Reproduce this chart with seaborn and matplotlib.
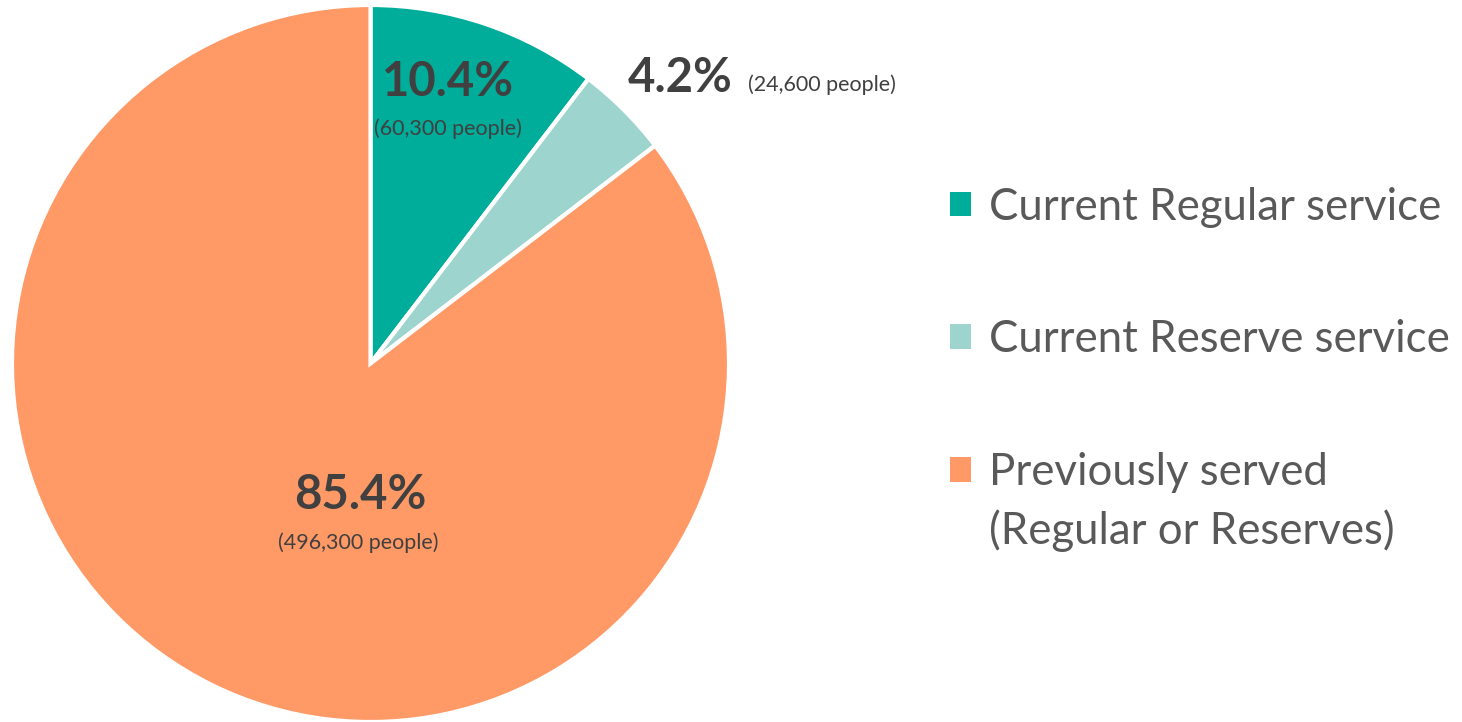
import matplotlib.pyplot as plt
import seaborn as sns
from matplotlib.patches import Patch

sns.set_theme(style="white")
plt.rcParams["font.family"] = ["Lato", "DejaVu Sans"]

categories = ["Current Regular service", "Current Reserve service", "Previously served"]
category_note = "(Regular or Reserves)"
shares = [10.4, 4.2, 85.4]
people = ["60,300", "24,600", "496,300"]
colors = ["#00AC9A", "#9DD5CE", "#FF9966"]

W, H = 1462, 722
fig = plt.figure(figsize=(W / 100, H / 100), dpi=100)
ax = fig.add_axes([12 / W, 0, 717 / W, 717 / H])

wedges, _ = ax.pie(shares, colors=colors, startangle=90, counterclock=False,
                   wedgeprops=dict(edgecolor="white", linewidth=3))
ax.set_xlim(-1, 1)
ax.set_ylim(-1, 1)
ax.set_aspect("equal")

dark = "#404040"
big, small = 34, 15.5
# 10.4% inside its wedge
ax.text(0.216, 0.784, f"{shares[0]}%", ha="center", va="center",
        fontsize=big, fontweight="bold", color=dark)
ax.text(0.216, 0.656, f"({people[0]} people)", ha="center", va="center",
        fontsize=small, color=dark)
# 4.2% outside the pie
ax.text(0.718, 0.796, f"{shares[1]}%", ha="left", va="center",
        fontsize=big, fontweight="bold", color=dark)
ax.text(1.053, 0.777, f"({people[1]} people)", ha="left", va="center",
        fontsize=small, color=dark)
# 85.4%
ax.text(-0.029, -0.367, f"{shares[2]}%", ha="center", va="center",
        fontsize=big, fontweight="bold", color=dark)
ax.text(-0.035, -0.50, f"({people[2]} people)", ha="center", va="center",
        fontsize=small, color=dark)

handles = [Patch(facecolor=c, edgecolor="none") for c in colors]
leg = fig.legend(handles, categories, loc="upper left",
                 bbox_to_anchor=(932 / W, 1 - 169 / H), borderaxespad=0,
                 frameon=False, fontsize=31.5, handlelength=0.5, handleheight=0.5,
                 handletextpad=0.4, labelspacing=2.1, labelcolor="#595959")

# second line of the last legend entry, under its first line
fig.canvas.draw()
bb = leg.get_texts()[-1].get_window_extent()
fig.text(bb.x0 / W, (bb.y1 - 57) / H, category_note, ha="left", va="top",
         fontsize=31.5, color="#595959")

fig.savefig("out.png", dpi=100)
plt.close(fig)
